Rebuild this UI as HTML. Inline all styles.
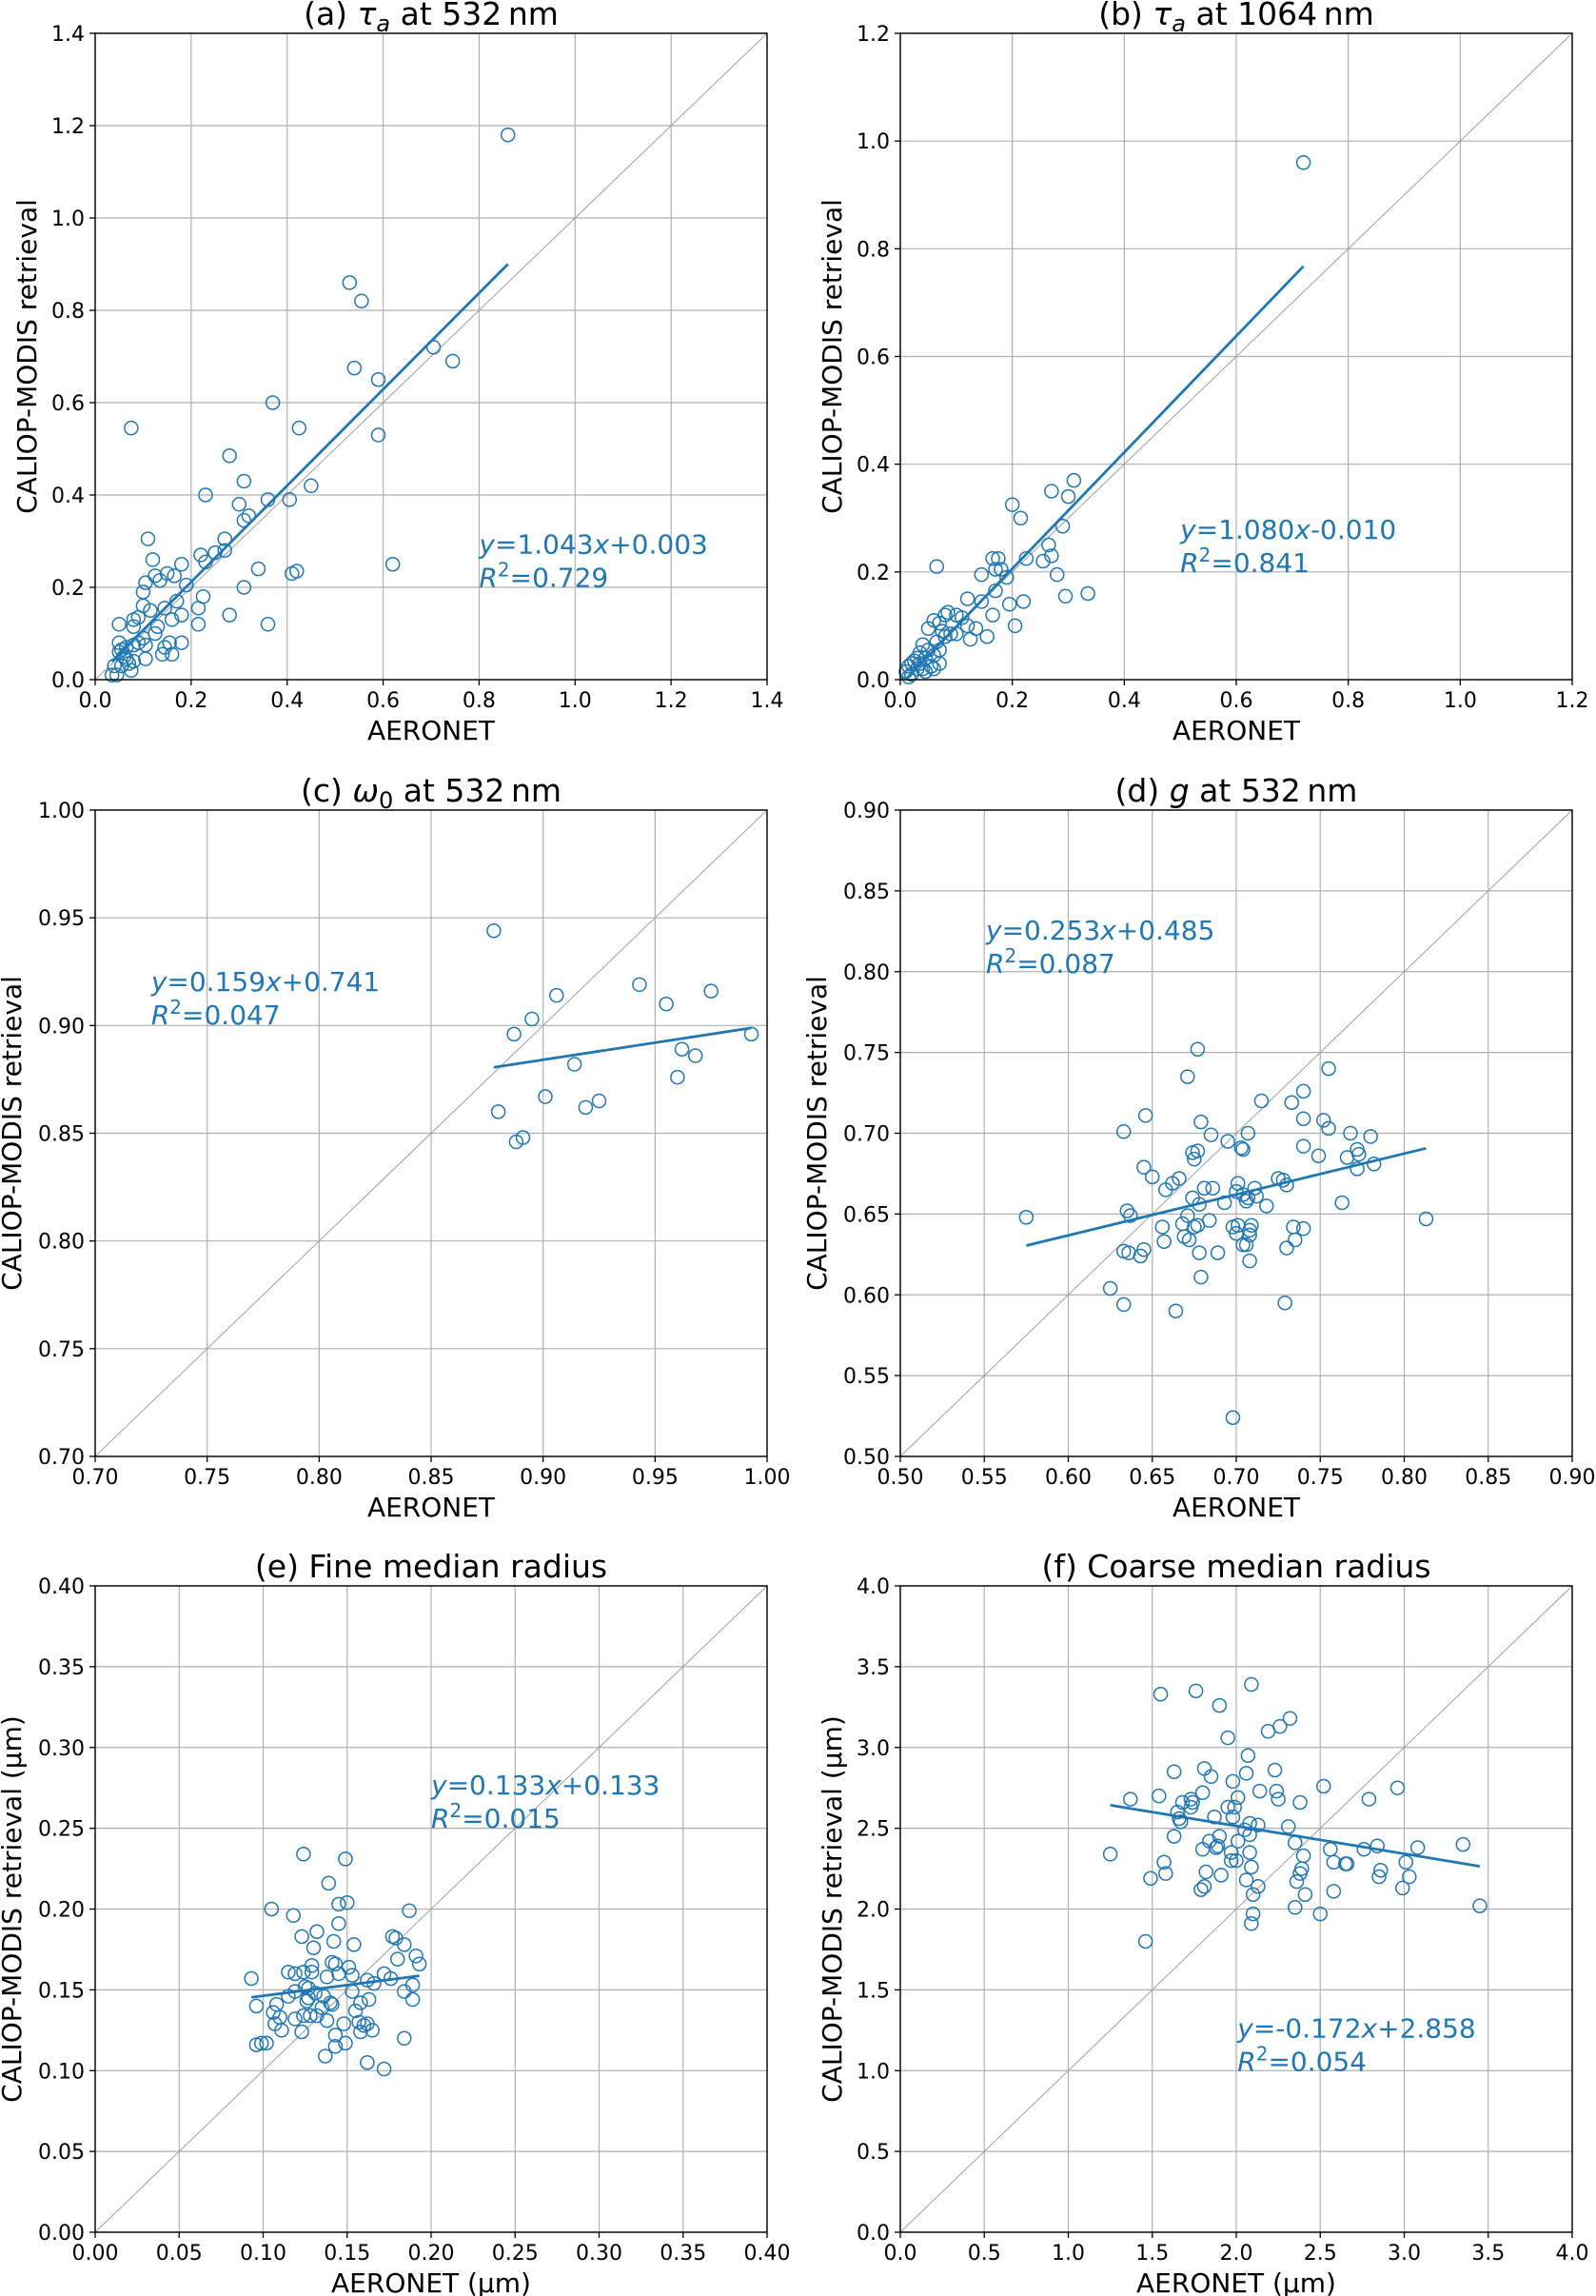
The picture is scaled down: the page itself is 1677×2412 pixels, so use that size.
<!DOCTYPE html>
<html><head><meta charset="utf-8">
<style>
html,body{margin:0;padding:0;background:#fff;}
svg{display:block;font-family:"DejaVu Sans","Liberation Sans",sans-serif;}
</style></head>
<body>
<svg id="fig" width="1677" height="2412" viewBox="0 0 1677 2412" xmlns="http://www.w3.org/2000/svg"></svg>
<script>
// ---- Data arrays ----
const aX=[0.86,0.53,0.555,0.705,0.745,0.54,0.59,0.59,0.37,0.075,0.425,0.28,0.45,0.31,0.23,0.36,0.405,0.30,0.31,0.32,0.11,0.27,0.27,0.25,0.22,0.23,0.62,0.12,0.34,0.41,0.42,0.18,0.15,0.165,0.125,0.135,0.105,0.19,0.31,0.10,0.225,0.17,0.215,0.145,0.115,0.10,0.28,0.18,0.16,0.09,0.08,0.05,0.13,0.215,0.36,0.08,0.125,0.10,0.05,0.18,0.155,0.145,0.105,0.08,0.065,0.055,0.09,0.14,0.16,0.105,0.05,0.06,0.08,0.07,0.055,0.04,0.075,0.035,0.045,0.065];
const aY=[1.18,0.86,0.82,0.72,0.69,0.675,0.65,0.53,0.6,0.545,0.545,0.485,0.42,0.43,0.4,0.39,0.39,0.38,0.345,0.355,0.305,0.305,0.28,0.275,0.27,0.255,0.25,0.26,0.24,0.23,0.235,0.25,0.23,0.225,0.225,0.215,0.21,0.205,0.2,0.19,0.18,0.17,0.155,0.155,0.15,0.16,0.14,0.14,0.13,0.135,0.13,0.12,0.115,0.12,0.12,0.115,0.1,0.09,0.08,0.08,0.08,0.07,0.075,0.075,0.07,0.065,0.08,0.055,0.055,0.045,0.06,0.05,0.04,0.035,0.03,0.03,0.02,0.01,0.01,0.045];
const bX=[0.72,0.31,0.27,0.3,0.2,0.215,0.29,0.265,0.27,0.225,0.255,0.28,0.065,0.165,0.175,0.17,0.18,0.19,0.145,0.17,0.335,0.295,0.195,0.22,0.12,0.145,0.165,0.205,0.10,0.11,0.085,0.08,0.135,0.12,0.155,0.125,0.10,0.06,0.07,0.05,0.075,0.08,0.09,0.065,0.04,0.05,0.035,0.07,0.06,0.03,0.045,0.02,0.025,0.015,0.04,0.055,0.07,0.01,0.02,0.03,0.045,0.06,0.015,0.035];
const bY=[0.96,0.37,0.35,0.34,0.325,0.3,0.285,0.25,0.23,0.225,0.22,0.195,0.21,0.225,0.225,0.205,0.205,0.19,0.195,0.165,0.16,0.155,0.14,0.145,0.15,0.145,0.12,0.1,0.12,0.115,0.125,0.12,0.095,0.1,0.08,0.075,0.085,0.11,0.105,0.095,0.09,0.08,0.085,0.07,0.065,0.055,0.05,0.055,0.045,0.04,0.04,0.03,0.035,0.025,0.02,0.025,0.03,0.015,0.01,0.02,0.015,0.02,0.005,0.03];
const cX=[0.878,0.943,0.906,0.975,0.955,0.895,0.887,0.993,0.962,0.968,0.914,0.960,0.901,0.925,0.919,0.880,0.891,0.888];
const cY=[0.944,0.919,0.914,0.916,0.910,0.903,0.896,0.896,0.889,0.886,0.882,0.876,0.867,0.865,0.862,0.860,0.848,0.846];
const dX=[0.575,0.677,0.671,0.755,0.740,0.715,0.733,0.646,0.740,0.752,0.679,0.755,0.633,0.707,0.768,0.685,0.780,0.695,0.740,0.704,0.703,0.677,0.674,0.772,0.773,0.749,0.766,0.675,0.772,0.782,0.645,0.650,0.666,0.725,0.728,0.662,0.730,0.701,0.658,0.681,0.686,0.711,0.700,0.674,0.704,0.707,0.712,0.706,0.678,0.693,0.718,0.763,0.635,0.637,0.671,0.813,0.684,0.668,0.656,0.675,0.677,0.698,0.701,0.709,0.734,0.740,0.708,0.708,0.700,0.669,0.672,0.657,0.735,0.704,0.706,0.730,0.645,0.633,0.636,0.678,0.689,0.643,0.708,0.679,0.625,0.633,0.729,0.664,0.698];
const dY=[0.648,0.752,0.735,0.740,0.726,0.720,0.719,0.711,0.709,0.708,0.707,0.703,0.701,0.700,0.700,0.699,0.698,0.695,0.692,0.690,0.691,0.689,0.688,0.690,0.687,0.686,0.685,0.684,0.678,0.681,0.679,0.673,0.672,0.672,0.671,0.669,0.668,0.669,0.665,0.666,0.666,0.666,0.664,0.660,0.662,0.660,0.661,0.658,0.656,0.657,0.655,0.657,0.652,0.649,0.649,0.647,0.646,0.644,0.642,0.642,0.643,0.642,0.643,0.643,0.642,0.641,0.640,0.637,0.638,0.636,0.634,0.633,0.634,0.631,0.631,0.629,0.628,0.627,0.626,0.626,0.626,0.624,0.621,0.611,0.604,0.594,0.595,0.590,0.524];
const eX=[0.124,0.149,0.139,0.145,0.150,0.105,0.187,0.118,0.145,0.132,0.123,0.177,0.179,0.142,0.154,0.184,0.130,0.191,0.180,0.141,0.143,0.193,0.129,0.151,0.145,0.172,0.115,0.119,0.124,0.129,0.138,0.153,0.093,0.176,0.162,0.166,0.189,0.125,0.127,0.153,0.119,0.184,0.131,0.115,0.136,0.127,0.126,0.140,0.158,0.163,0.189,0.108,0.096,0.135,0.141,0.106,0.155,0.110,0.124,0.128,0.132,0.138,0.119,0.107,0.148,0.157,0.160,0.162,0.111,0.123,0.158,0.165,0.143,0.184,0.096,0.099,0.102,0.149,0.143,0.137,0.162,0.172];
const eY=[0.234,0.231,0.216,0.203,0.204,0.200,0.199,0.196,0.191,0.186,0.183,0.183,0.182,0.180,0.178,0.178,0.176,0.171,0.169,0.167,0.166,0.166,0.165,0.164,0.160,0.160,0.161,0.160,0.161,0.161,0.158,0.159,0.157,0.157,0.156,0.154,0.153,0.152,0.151,0.149,0.149,0.149,0.148,0.146,0.146,0.145,0.143,0.142,0.142,0.144,0.144,0.141,0.140,0.139,0.141,0.136,0.137,0.133,0.134,0.134,0.134,0.131,0.132,0.129,0.129,0.130,0.128,0.129,0.125,0.124,0.124,0.125,0.122,0.120,0.116,0.117,0.117,0.117,0.115,0.109,0.105,0.101];
const fX=[2.09,1.55,1.76,1.90,2.32,2.26,2.19,1.95,2.07,1.81,1.63,2.23,2.06,1.85,1.98,2.52,2.96,2.14,1.80,2.24,2.25,1.54,1.37,2.01,2.79,2.38,1.68,1.73,1.74,1.73,1.95,1.99,1.65,1.87,1.98,1.66,1.67,2.08,2.13,2.31,2.05,2.08,1.63,1.90,1.84,2.01,2.35,3.35,1.89,2.84,3.08,1.80,1.88,2.56,2.76,2.08,1.25,1.97,2.40,1.97,2.00,2.58,3.01,1.57,2.65,2.66,2.09,2.39,2.86,1.82,2.38,1.49,1.58,1.91,2.85,3.03,2.06,2.36,1.79,1.81,2.13,2.99,2.58,2.10,2.41,3.45,2.35,2.50,2.10,2.09,1.46];
const fY=[3.39,3.33,3.35,3.26,3.18,3.13,3.10,3.06,2.95,2.87,2.85,2.86,2.84,2.82,2.79,2.76,2.75,2.73,2.72,2.73,2.68,2.70,2.68,2.69,2.68,2.66,2.66,2.68,2.66,2.63,2.63,2.63,2.60,2.57,2.57,2.56,2.54,2.53,2.52,2.51,2.49,2.46,2.45,2.45,2.42,2.42,2.41,2.40,2.39,2.39,2.38,2.37,2.38,2.37,2.37,2.35,2.34,2.35,2.33,2.30,2.30,2.29,2.29,2.29,2.28,2.28,2.26,2.25,2.24,2.23,2.22,2.19,2.22,2.21,2.20,2.20,2.18,2.17,2.12,2.14,2.14,2.13,2.11,2.09,2.09,2.02,2.01,1.97,1.97,1.91,1.80];
const slopes=[1.043,1.080,0.159,0.253,0.133,-0.172];
const intercepts=[0.003,-0.010,0.741,0.485,0.133,2.858];
const r2vals=["0.729","0.841","0.047","0.087","0.015","0.054"];
const tickA=["0.0","0.2","0.4","0.6","0.8","1.0","1.2","1.4"];
const tickB=["0.0","0.2","0.4","0.6","0.8","1.0","1.2"];
const tickC=["0.70","0.75","0.80","0.85","0.90","0.95","1.00"];
const tickD=["0.50","0.55","0.60","0.65","0.70","0.75","0.80","0.85","0.90"];
const tickE=["0.00","0.05","0.10","0.15","0.20","0.25","0.30","0.35","0.40"];
const tickF=["0.0","0.5","1.0","1.5","2.0","2.5","3.0","3.5","4.0"];

const NS="http://www.w3.org/2000/svg";
const svg=document.getElementById('fig');
const C="#1f77b4";
function mk(tag,attrs,parent){const e=document.createElementNS(NS,tag);for(const k in attrs)e.setAttribute(k,attrs[k]);(parent||svg).appendChild(e);return e;}

const panels=[
 {id:'a',L:100,T:35,W:706,H:679,ticks:tickA,xs:aX,ys:aY,title:[["(a) ",""],["τ","i"],["a","sub"],[" at 532\u2009nm",""]],xl:"AERONET",yl:"CALIOP-MODIS retrieval",ann:[0.80,0.273],ylx:38},
 {id:'b',L:946,T:35,W:706,H:679,ticks:tickB,xs:bX,ys:bY,title:[["(b) ",""],["τ","i"],["a","sub"],[" at 1064\u2009nm",""]],xl:"AERONET",yl:"CALIOP-MODIS retrieval",ann:[0.50,0.262],ylx:884},
 {id:'c',L:100,T:851,W:706,H:679,ticks:tickC,xs:cX,ys:cY,title:[["(c) ",""],["ω","i"],["0","subn"],[" at 532\u2009nm",""]],xl:"AERONET",yl:"CALIOP-MODIS retrieval",ann:[0.725,0.916],ylx:22},
 {id:'d',L:946,T:851,W:706,H:679,ticks:tickD,xs:dX,ys:dY,title:[["(d) ",""],["g","i"],[" at 532\u2009nm",""]],xl:"AERONET",yl:"CALIOP-MODIS retrieval",ann:[0.551,0.82],ylx:868},
 {id:'e',L:100,T:1666,W:706,H:679,ticks:tickE,xs:eX,ys:eY,title:[["(e) Fine median radius",""]],xl:"AERONET (μm)",yl:"CALIOP-MODIS retrieval (μm)",ann:[0.20,0.271],ylx:22},
 {id:'f',L:946,T:1666,W:706,H:679,ticks:tickF,xs:fX,ys:fY,title:[["(f) Coarse median radius",""]],xl:"AERONET (μm)",yl:"CALIOP-MODIS retrieval (μm)",ann:[2.007,1.204],ylx:884}
];

panels.forEach((p,pi)=>{
  const g=mk('g',{});
  
  
  const lo=parseFloat(p.ticks[0]), hi=parseFloat(p.ticks[p.ticks.length-1]);
  const sx=v=>p.L+(v-lo)/(hi-lo)*p.W;
  const sy=v=>p.T+p.H-(v-lo)/(hi-lo)*p.H;
  p.ticks.forEach(t=>{
    const v=parseFloat(t);
    const gx=mk('line',{x1:sx(v),x2:sx(v),y1:p.T,y2:p.T+p.H,stroke:"#b0b0b0","stroke-width":1.2},g);
    
    
    const gy=mk('line',{x1:p.L,x2:p.L+p.W,y1:sy(v),y2:sy(v),stroke:"#b0b0b0","stroke-width":1.2},g);
    
    
  });
  const d=mk('line',{x1:sx(lo),y1:sy(lo),x2:sx(hi),y2:sy(hi),stroke:"#a0a0a0","stroke-width":1},g);
  
  
  p.xs.forEach((x,i)=>{
    const c=mk('circle',{cx:sx(x),cy:sy(p.ys[i]),r:7,fill:"none",stroke:C,"stroke-width":1.5},g);
    
    
  });
  const xmin=Math.min(...p.xs), xmax=Math.max(...p.xs);
  const s=slopes[pi], b=intercepts[pi];
  const rl=mk('line',{x1:sx(xmin),y1:sy(s*xmin+b),x2:sx(xmax),y2:sy(s*xmax+b),stroke:C,"stroke-width":2.8},g);
  
  
  const fr=mk('rect',{x:p.L,y:p.T,width:p.W,height:p.H,fill:"none",stroke:"#000","stroke-width":1.4},g);
  
  
  p.ticks.forEach(t=>{
    const v=parseFloat(t);
    mk('line',{x1:sx(v),x2:sx(v),y1:p.T+p.H,y2:p.T+p.H+6,stroke:"#000","stroke-width":1.3},g);
    mk('line',{x1:p.L-6,x2:p.L,y1:sy(v),y2:sy(v),stroke:"#000","stroke-width":1.3},g);
    const xt=mk('text',{x:sx(v),y:p.T+p.H+29,"font-size":22,"text-anchor":"middle",fill:"#000"},g);
    xt.textContent=t;
    
    
    const yt=mk('text',{x:p.L-11,y:sy(v)+8,"font-size":22,"text-anchor":"end",fill:"#000"},g);
    yt.textContent=t;
    
    
  });
  const tt=mk('text',{x:p.L+p.W/2,y:p.T-9,"font-size":33,"text-anchor":"middle",fill:"#000"},g);
  
  
  let prevSub=false;
  p.title.forEach(([s2,st])=>{
    const ts=mk('tspan',{},tt);ts.textContent=s2;
    if(st==='i')ts.setAttribute('font-style','italic');
    if(st==='sub'||st==='subn'){ts.setAttribute('font-size',24);ts.setAttribute('dy',7);if(st==='sub')ts.setAttribute('font-style','italic');prevSub=true;}
    else if(prevSub){ts.setAttribute('dy',-7);prevSub=false;}
  });
  const xl=mk('text',{x:p.L+p.W/2,y:p.T+p.H+63,"font-size":28,"text-anchor":"middle",fill:"#000"},g);
  xl.textContent=p.xl;
  
  
  const cy=p.T+p.H/2;
  const yl=mk('text',{x:p.ylx,y:cy,"font-size":28,"text-anchor":"middle",fill:"#000",transform:`rotate(-90 ${p.ylx} ${cy})`},g);
  yl.textContent=p.yl;
  
  
  const ax=sx(p.ann[0]), ay=sy(p.ann[1]);
  const e1=mk('text',{x:ax,y:ay,"font-size":28,fill:C},g);
  
  
  let t1=mk('tspan',{'font-style':'italic'},e1);t1.textContent='y';
  t1=mk('tspan',{},e1);t1.textContent='='+s.toFixed(3);
  t1=mk('tspan',{'font-style':'italic'},e1);t1.textContent='x';
  t1=mk('tspan',{},e1);t1.textContent=(b<0?'-':'+')+Math.abs(b).toFixed(3);
  const e2=mk('text',{x:ax,y:ay+35,"font-size":28,fill:C},g);
  
  
  let t2=mk('tspan',{'font-style':'italic'},e2);t2.textContent='R';
  t2=mk('tspan',{'font-size':20,dy:-11},e2);t2.textContent='2';
  t2=mk('tspan',{dy:11},e2);t2.textContent='='+r2vals[pi];
});
</script>
</body></html>
